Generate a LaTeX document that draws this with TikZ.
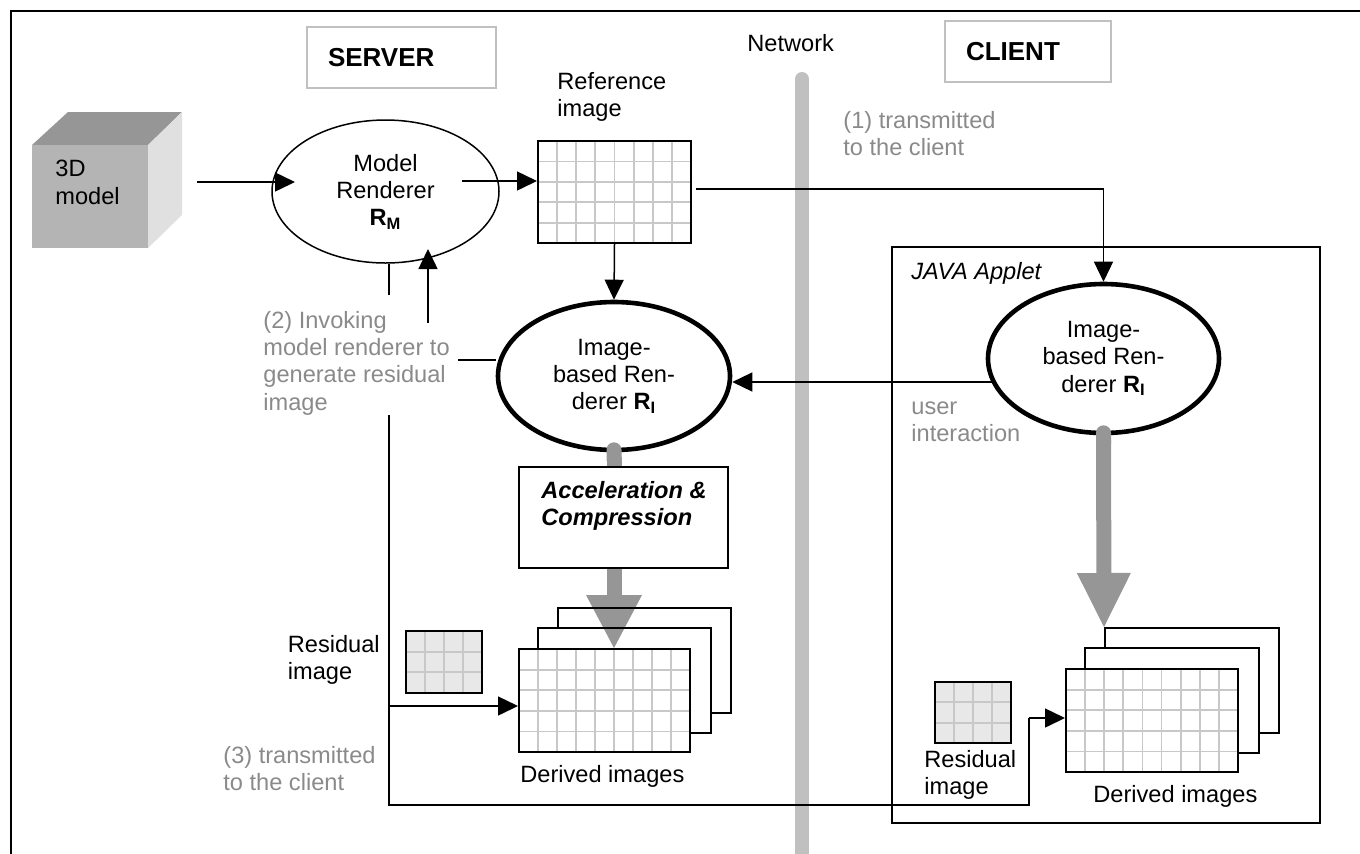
\documentclass[tikz,border=0pt]{standalone}
\usepackage{fontspec}
\setmainfont{Liberation Sans}
\usetikzlibrary{shapes.geometric,arrows.meta,calc}
\definecolor{txtgray}{RGB}{138,138,138}
\definecolor{netgray}{RGB}{192,192,192}
\definecolor{fatgray}{RGB}{150,150,150}
\definecolor{gridgray}{RGB}{200,200,200}
\definecolor{resgray}{RGB}{232,232,232}
\definecolor{cubetop}{RGB}{150,150,150}
\definecolor{cubefront}{RGB}{180,180,180}
\definecolor{cubeside}{RGB}{224,224,224}

\begin{document}
\begin{tikzpicture}[x=0.5pt, y=-0.5pt,
  every node/.style={font=\fontsize{11.8}{13.6}\selectfont, inner sep=0pt},
  txt/.style={anchor=north west, align=left},
  note/.style={txt, text=txtgray},
  ell/.style={draw, ellipse, line width=0.75pt, align=center},
  fatell/.style={ell, line width=2.3pt},
  img/.style={draw, line width=1pt, fill=white},
  gridline/.style={gridgray, line width=0.9pt},
  pixgrid/.style 2 args={path picture={
    \foreach \k in {1,...,#1}
      \draw[gridline] ($(path picture bounding box.south west)!\k/#1!(path picture bounding box.south east)$) -- ($(path picture bounding box.north west)!\k/#1!(path picture bounding box.north east)$);
    \foreach \k in {1,...,#2}
      \draw[gridline] ($(path picture bounding box.south west)!\k/#2!(path picture bounding box.north west)$) -- ($(path picture bounding box.south east)!\k/#2!(path picture bounding box.north east)$);
  }},
  link/.style={line width=0.75pt},
  arr/.style={link, -{Triangle[length=10pt,width=9.5pt]}},
  fat/.style={fatgray, line width=7.5pt},
  tag/.style={draw=netgray, line width=0.9pt, font=\fontsize{13}{15}\selectfont\bfseries, align=left, inner xsep=10.5pt, minimum height=30.5pt}
]
\useasboundingbox (0,0) rectangle (1360,853);
\clip (0,0) rectangle (1360,853);
\draw[line width=1pt] (11,11) rectangle (1380,880);
\draw[netgray, line width=7pt, line cap=round] (802,79) -- (802,900);

\fill[cubetop] (32,145) -- (68,112) -- (182,112) -- (148,145) -- cycle;
\fill[cubeside] (148,145) -- (182,112) -- (182,215) -- (148,248) -- cycle;
\fill[cubefront] (32,145) rectangle (148,248);
\node[txt] (cube) at (55,160) {3D\\model};

\node[tag, minimum width=94.5pt, text width=73.5pt] (server) at (401.5,57.5) {SERVER};
\node[tag, minimum width=83pt, text width=62pt] (client) at (1028,51.5) {CLIENT};
\node[txt] (net) at (747,34) {Network};

\node[ell, minimum width=113.5pt, minimum height=71.5pt] (mr) at (385.5,191.5) {Model\\Renderer\\\textbf{R\textsubscript{M}}};
\node[img, pixgrid={8}{5}, minimum width=76.5pt, minimum height=51pt] (ref) at (614.5,192) {};
\node[txt] (reflbl) at (557,72) {Reference\\image};
\node[note] (step1) at (843,111) {(1) transmitted\\to the client};

\node[draw, line width=1pt, minimum width=214pt, minimum height=288pt] (applet) at (1106,535) {};
\node[txt, font=\fontsize{11.8}{13.6}\selectfont\itshape] (appletlbl) at (911,262) {JAVA Applet};
\node[fatell, minimum width=115.5pt, minimum height=74.5pt] (cibr) at (1103.5,358.5) {Image-\\based Ren-\\derer \textbf{R\textsubscript{I}}};
\node[fatell, minimum width=116pt, minimum height=74pt] (sibr) at (614,376) {Image-\\based Ren-\\derer \textbf{R\textsubscript{I}}};
\node[note] (step2) at (263,311) {(2) Invoking\\model renderer to\\generate residual\\image};
\node[note] (uint) at (911,401) {user\\interaction};

\node[img, minimum width=104.5pt, minimum height=50.5pt] (acc) at (623.5,517.5) {};
\node[txt, font=\fontsize{11.8}{13.6}\selectfont\bfseries\itshape] (acclbl) at (541,481) {Acceleration \&\\Compression};

\node[img, pixgrid={9}{5}, minimum width=85.5pt, minimum height=51.5pt] (sdf) at (604.5,700.5) {};
\node[img, pixgrid={9}{5}, minimum width=86pt, minimum height=51.5pt] (cdf) at (1152,720.5) {};
\node[img, fill=resgray, pixgrid={4}{3}, minimum width=38pt, minimum height=31pt] (sres) at (444,662) {};
\node[img, fill=resgray, pixgrid={4}{3}, minimum width=38pt, minimum height=30.5pt] (cres) at (973,712.5) {};
\node[txt] (sreslbl) at (287.5,635) {Residual\\image};
\node[txt] (creslbl) at (924,750) {Residual\\image};
\node[txt] (sdflbl) at (520,765) {Derived images};
\node[txt] (cdflbl) at (1093,785) {Derived images};
\node[note] (step3) at (223,746) {(3) transmitted\\to the client};

\coordinate (cubeout) at (197,182);
\coordinate (mrin) at (295,182);
\coordinate (mrout) at (462,181);
\coordinate (refout) at (696,189);
\coordinate (uiout) at (994,382);
\coordinate (invA) at (458,360);
\coordinate (invB) at (428,323);
\coordinate (invC) at (428,249);
\coordinate (resA) at (389,295);
\coordinate (resB) at (389,415);
\coordinate (resC) at (389,805);
\coordinate (resD) at (1029,805);
\coordinate (resE) at (1029,718);
\coordinate (resF) at (389,706);
\coordinate (ctip) at (1104,627);

\draw[arr] (cubeout) -- (mrin);
\draw[arr] (mrout) -- (mrout -| ref.west);
\draw[arr] (refout) -| (cibr.north);
\draw[arr] (ref.south) -- (sibr.north);
\draw[arr] (uiout) -- (uiout -| sibr.east);
\draw[link] (invA) -- (invA -| sibr.west);
\draw[arr] (invB) -- (invC);
\draw[link] (mr.south -| resA) -- (resA);
\draw[link] (resB) -- (resC) -- (resD) -- (resE);
\draw[arr] (resE) -- (resE -| cdf.west);
\draw[arr] (resF) -- (resF -| sdf.west);

\draw[fat, {Round Cap}-] ([yshift=5pt]sibr.south) -- (sibr.south |- acc.north);
\draw[fat, -{Triangle[length=26.5pt,width=28pt,line width=0pt]}] (sibr.south |- acc.south) -- (sibr.south |- sdf.north);
\draw[fat, {Round Cap}-{Triangle[length=27pt,width=27pt,line width=0pt]}] ([yshift=5pt]cibr.south) -- (ctip);

\foreach \s in {10pt,20pt} {
  \draw[line width=1pt] ([shift={(\s,\s-10pt)}]sdf.north west) -- ([shift={(\s,\s)}]sdf.north west) -- ([shift={(\s,\s)}]sdf.north east) -- ([shift={(\s,\s)}]sdf.south east) -- ([shift={(\s-10pt,\s)}]sdf.south east);
  \draw[line width=1pt] ([shift={(\s,\s-10pt)}]cdf.north west) -- ([shift={(\s,\s)}]cdf.north west) -- ([shift={(\s,\s)}]cdf.north east) -- ([shift={(\s,\s)}]cdf.south east) -- ([shift={(\s-10pt,\s)}]cdf.south east);
}
\end{tikzpicture}
\end{document}
